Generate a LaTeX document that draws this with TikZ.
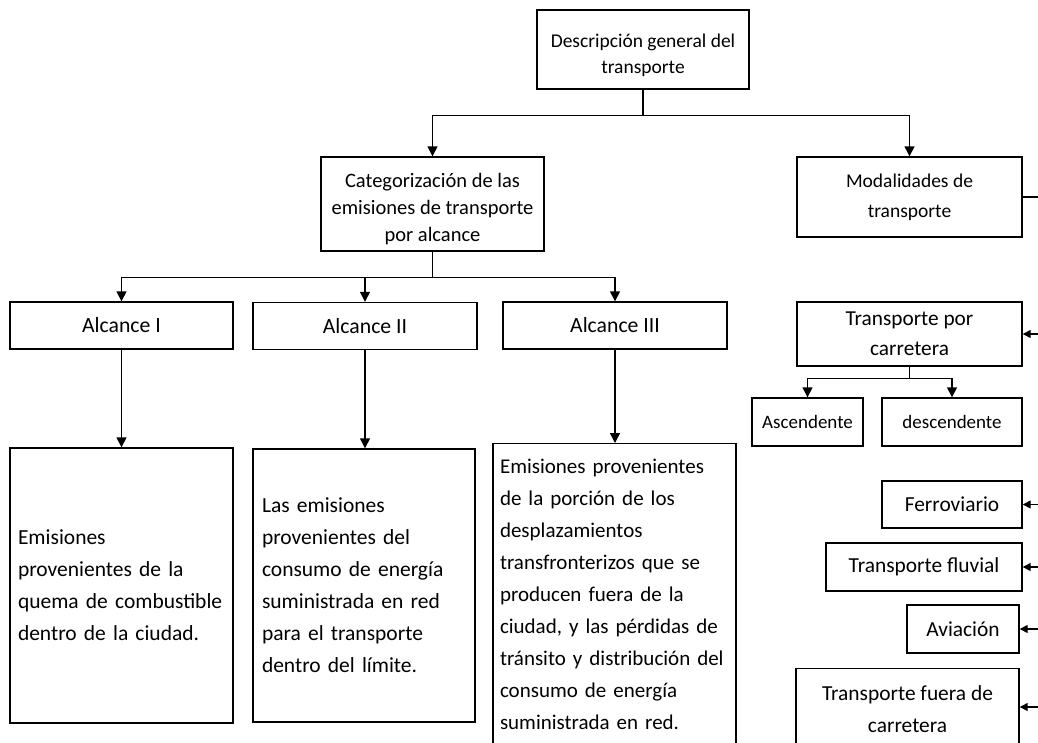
\documentclass[tikz,border=0pt]{standalone}
\usepackage{fontspec}
\setmainfont{Carlito}
\usetikzlibrary{arrows.meta,calc}
\newcommand{\fs}[2]{\fontsize{#1}{#2}\selectfont}

\begin{document}
\begin{tikzpicture}[x=1pt,y=-1pt,
  line width=1.4pt,
  box/.style={draw,line width=1.4pt,inner sep=0pt,align=center},
  txtbox/.style={draw,line width=1.4pt,inner ysep=0pt,font=\fs{21.5}{32},execute at begin node=\raggedright},
  arr/.style={-{Triangle[width=10pt,length=10pt]}},
  sarr/.style={-{Triangle[width=8pt,length=8pt]}}]
\useasboundingbox (0,0) rectangle (1038,742);
\clip (0,0) rectangle (1038,742);

\node[box,minimum width=212pt,minimum height=79pt,font=\fs{19.5}{26}] (desc) at (643,49.5) {\rule{0pt}{25pt}Descripción general del\\transporte};
\node[box,minimum width=223pt,minimum height=94pt,font=\fs{20.5}{27}] (categ) at (432.5,204) {\rule{0pt}{23.5pt}Categorización de las\\emisiones de transporte\\por alcance};
\node[box,minimum width=225pt,minimum height=80pt,font=\fs{19.5}{30}] (modal) at (909.5,197) {Modalidades de\\transporte};

\node[box,minimum width=223pt,minimum height=47pt,font=\fs{21.7}{26}] (alc1) at (121.5,325.5) {Alcance I};
\node[box,minimum width=224pt,minimum height=47pt,font=\fs{21.7}{26}] (alc2) at (365,326) {Alcance II};
\node[box,minimum width=224pt,minimum height=47pt,font=\fs{21.7}{26}] (alc3) at (615,325.5) {Alcance III};

\node[txtbox,text width=207pt,inner xsep=8pt,minimum height=275pt] (em1) at (121.5,585.5) {Emisiones\\provenientes de la\\quema de combustible\\dentro de la ciudad.};
\node[txtbox,text width=204pt,inner xsep=9pt,minimum height=273pt] (em2) at (364,585.5) {Las emisiones\\provenientes del\\consumo de energía\\suministrada en red\\para el transporte\\dentro del límite.};
\node[txtbox,font=\fs{21}{32},text width=229pt,inner xsep=7pt,inner ysep=15pt,anchor=north] (em3) at (614.5,443) {Emisiones provenientes\\de la porción de los\\desplazamientos\\transfronterizos que se\\producen fuera de la\\ciudad, y las pérdidas de\\tránsito y distribución del\\consumo de energía\\suministrada en red.};

\node[box,minimum width=225pt,minimum height=64pt,font=\fs{21.3}{30}] (carretera) at (909.5,334) {Transporte por\\carretera};
\node[box,minimum width=111pt,minimum height=48pt,font=\fs{19}{24}] (ascen) at (807.5,422) {Ascendente};
\node[box,minimum width=140pt,minimum height=48pt,font=\fs{19}{24}] (descen) at (952,422) {descendente};
\node[box,minimum width=140pt,minimum height=47pt,font=\fs{21.4}{26}] (ferro) at (952,504.5) {Ferroviario};
\node[box,minimum width=196pt,minimum height=48pt,font=\fs{21.4}{26}] (fluvial) at (924,567) {Transporte fluvial};
\node[box,minimum width=112pt,minimum height=48pt,font=\fs{21.4}{26}] (avia) at (963,629) {Aviación};
\node[box,minimum width=223pt,inner ysep=17pt,anchor=north,font=\fs{21.4}{32}] (fuera) at (907.5,668) {Transporte fuera de\\carretera};

\coordinate (edge) at (1038,0);
\coordinate (fin) at (1038,707);

\draw (desc.south) -- ++(0,26) coordinate (j1);
\draw[arr] (j1) -| (categ.north);
\draw[arr] (j1) -| (modal.north);

\draw (categ.south) -- ++(0,26) coordinate (j2);
\draw[arr] (j2) -| (alc1.north);
\draw[arr] (j2) -| (alc2.north);
\draw[arr] (j2) -| (alc3.north);

\draw[arr] (alc1.south) -- (alc1.south |- em1.north);
\draw[arr] (alc2.south) -- (alc2.south |- em2.north);
\draw[arr] (alc3.south) -- (alc3.south |- em3.north);

\draw (modal.east) -- (modal.east -| edge);

\draw (carretera.south) -- ++(0,12) coordinate (j3);
\draw[arr] (j3) -| (ascen.north);
\draw[arr] (j3) -| (descen.north);

\draw[sarr] (carretera.east -| edge) -- (carretera.east);
\draw[sarr] (ferro.east -| edge) -- (ferro.east);
\draw[sarr] (fluvial.east -| edge) -- (fluvial.east);
\draw[sarr] (avia.east -| edge) -- (avia.east);
\draw[sarr] (fin) -- (fin -| fuera.east);

\end{tikzpicture}
\end{document}
